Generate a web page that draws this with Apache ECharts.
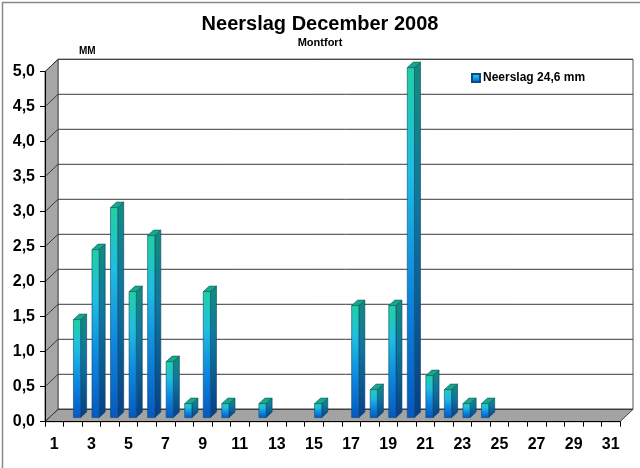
<!DOCTYPE html>
<html>
<head>
<meta charset="utf-8">
<script src="https://cdn.jsdelivr.net/npm/echarts@6/dist/echarts.min.js"></script>
<style>
html,body{margin:0;padding:0;background:#fff;}
#c{width:640px;height:468px;}
</style>
</head>
<body>
<div id="c"></div>
<script>
// ---- data ----
var titleText = 'Neerslag December 2008';
var subtitleText = 'Montfort';
var unitText = 'MM';
var days = ['1','2','3','4','5','6','7','8','9','10','11','12','13','14','15','16','17','18','19','20','21','22','23','24','25','26','27','28','29','30','31'];
var rain = [0, 1.4, 2.4, 3.0, 1.8, 2.6, 0.8, 0.2, 1.8, 0.2, 0, 0.2, 0, 0, 0.2, 0, 1.6, 0.4, 1.6, 5.0, 0.6, 0.4, 0.2, 0.2, 0, 0, 0, 0, 0, 0, 0];
var yTicks = [0, 0.5, 1.0, 1.5, 2.0, 2.5, 3.0, 3.5, 4.0, 4.5, 5.0];

var total = rain.reduce(function(a,b){return a+b;},0);
var seriesName = 'Neerslag ' + total.toFixed(1).replace('.', ',') + ' mm';

// ---- 3D look ----
var DX = 13, DY = -12.4;          // depth of the box
var BSX = 0.6, BSY = -4.1;        // bar shift inside depth
var BW = 7.2, SDX = 6, SDY = -5.5; // bar width and bar depth
var FONT = '"Liberation Sans", Arial, sans-serif';

var chart = echarts.init(document.getElementById('c'), null, {renderer:'canvas'});

function frontGrad(){
  return new echarts.graphic.LinearGradient(0,0,0,1,[
    {offset:0, color:'#22d0a2'},
    {offset:0.3, color:'#1fbde0'},
    {offset:0.65, color:'#0d86de'},
    {offset:1, color:'#0658c0'}
  ]);
}
function sideGrad(){
  return new echarts.graphic.LinearGradient(0,0,0,1,[
    {offset:0, color:'#138c7c'},
    {offset:0.4, color:'#10769c'},
    {offset:1, color:'#073f86'}
  ]);
}

var option = {
  animation: false,
  backgroundColor: '#fff',
  title: {
    text: titleText,
    subtext: subtitleText,
    left: 'center',
    top: 9,
    itemGap: 3,
    textStyle: {fontFamily: FONT, fontSize: 20, fontWeight: 'bold', color: '#000'},
    subtextStyle: {fontFamily: FONT, fontSize: 11, fontWeight: 'bold', color: '#000'}
  },
  legend: {
    left: 466, top: 67,
    itemWidth: 8, itemHeight: 8, itemGap: 4,
    icon: 'rect',
    data: [seriesName],
    textStyle: {fontFamily: FONT, fontSize: 12, fontWeight: 'bold', color: '#000', padding:[0,0,0,-2]}
  },
  graphic: [
    {type:'rect', left:0, top:0, z:100, silent:true,
     shape:{x:0.5,y:0.5,width:639,height:467},
     style:{fill:'none', stroke:'#8a8a8a', lineWidth:1.5}},
    {type:'text', left:79, top:46, z:100,
     style:{text: unitText, font:'bold 10px ' + FONT, fill:'#000'}}
  ],
  grid: {left: 45, right: 20, top: 71.7, bottom: 46.3, containLabel: false},
  xAxis: {
    type: 'category',
    data: days,
    boundaryGap: true,
    z: 10,
    axisLine: {show: true, lineStyle: {color: '#000', width: 1}},
    axisTick: {show: true, interval: 0, length: 5, lineStyle: {color: '#000'}},
    axisLabel: {interval: 1, margin: 15, fontFamily: FONT, fontSize: 16, fontWeight: 'bold', color: '#000'},
    splitLine: {show: false}
  },
  yAxis: {
    type: 'value',
    min: 0, max: 5, interval: 0.5,
    z: 10,
    axisLine: {show: true, lineStyle: {color: '#000', width: 1}},
    axisTick: {show: true, length: 5, lineStyle: {color: '#000'}},
    axisLabel: {margin: 10, fontFamily: FONT, fontSize: 16, fontWeight: 'bold', color: '#000',
      formatter: function(v){ return v.toFixed(1).replace('.', ','); }},
    splitLine: {show: false}
  },
  series: [
    {
      // walls and floor
      type: 'custom',
      name: 'walls',
      z: 1,
      silent: true,
      legendHoverLink: false,
      data: [[0, 0]],
      renderItem: function(params, api){
        var cs = params.coordSys;
        var x0 = cs.x, x1 = cs.x + cs.width;
        var yb = api.coord([0, 0])[1];
        var yt = api.coord([0, yTicks[yTicks.length-1]])[1];
        return {type:'group', children:[
          {type:'polygon', shape:{points:[[x0+DX,yt+DY],[x1+DX,yt+DY],[x1+DX,yb+DY],[x0+DX,yb+DY]]},
           style:{fill:'#fff', stroke:'#555', lineWidth:1}},
          {type:'polygon', shape:{points:[[x0,yb],[x0,yt],[x0+DX,yt+DY],[x0+DX,yb+DY]]},
           style:{fill:'#a6a6a6', stroke:'#555', lineWidth:1}},
          {type:'polygon', shape:{points:[[x0,yb],[x1,yb],[x1+DX,yb+DY],[x0+DX,yb+DY]]},
           style:{fill:'#a3a3a3', stroke:'#444', lineWidth:1}}
        ]};
      }
    },
    {
      // grid lines on back wall and side wall
      type: 'custom',
      name: 'gridlines',
      z: 2,
      silent: true,
      data: yTicks.map(function(v){ return [0, v]; }),
      renderItem: function(params, api){
        var cs = params.coordSys;
        var x0 = cs.x, x1 = cs.x + cs.width;
        var y = api.coord([0, api.value(1)])[1];
        return {type:'group', children:[
          {type:'polyline', shape:{points:[[x0,y],[x0+DX,y+DY],[x1+DX,y+DY]]},
           style:{fill:null, stroke:'#3a3a3a', lineWidth:1}}
        ]};
      }
    },
    {
      type: 'custom',
      name: seriesName,
      z: 3,
      itemStyle: {color: frontGrad(), borderColor:'#0b4a8a', borderWidth:0.5},
      data: rain.map(function(v, i){ return [i, v]; }),
      renderItem: function(params, api){
        var v = api.value(1);
        if (!v) return {type:'group', children:[]};
        var p0 = api.coord([api.value(0), 0]);
        var p1 = api.coord([api.value(0), v]);
        var L = p0[0] + BSX, R = L + BW;
        var b = p0[1] + BSY, t = p1[1] + BSY;
        return {type:'group', children:[
          {type:'polygon', shape:{points:[[R,b],[R,t],[R+SDX,t+SDY],[R+SDX,b+SDY]]},
           style:{fill: sideGrad(), stroke:'#0a3f6a', lineWidth:0.6}},
          {type:'polygon', shape:{points:[[L,t],[R,t],[R+SDX,t+SDY],[L+SDX,t+SDY]]},
           style:{fill:'#15a88c', stroke:'#0a5a50', lineWidth:0.6}},
          {type:'rect', shape:{x:L, y:t, width:BW, height:b-t},
           style:{fill: frontGrad(), stroke:'#0a4a70', lineWidth:0.6}}
        ]};
      }
    }
  ]
};
chart.setOption(option);
</script>
</body>
</html>
